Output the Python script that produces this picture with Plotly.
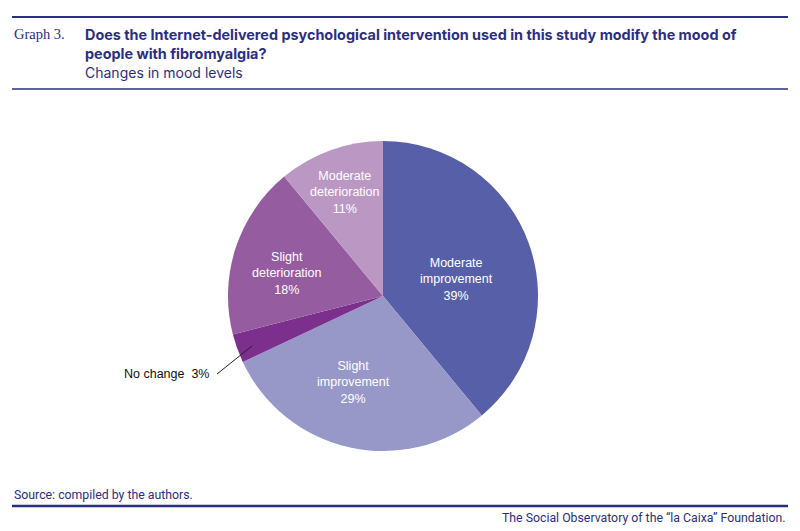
import plotly.graph_objects as go

# Data
labels = ['Moderate improvement', 'Slight improvement', 'No change',
          'Slight deterioration', 'Moderate deterioration']
label_text = ['Moderate<br>improvement', 'Slight<br>improvement', 'No change',
              'Slight<br>deterioration', 'Moderate<br>deterioration']
values = [39, 29, 3, 18, 11]
colors = ['#565fa8', '#9898c8', '#7d2f8d', '#955da0', '#bb98c4']

navy = '#2b2e83'
# page body has an 8px margin, so the figure is drawn 8px in from the corner
OFF = 8
W, H = 800 - OFF, 531 - OFF


def px(x):
    return (x - OFF) / W


def py(y):
    return 1 - (y - OFF) / H


fig = go.Figure(go.Pie(
    labels=labels,
    values=values,
    textinfo='none',
    marker=dict(colors=colors, line=dict(width=0)),
    sort=False,
    direction='clockwise',
    rotation=0,
    hoverinfo='label+percent',
    showlegend=False,
    domain=dict(x=[px(228), px(538)], y=[py(451), py(141)]),
))

# slice labels (white, inside), centre of the middle line in page pixels
label_pos = [(456, 279), (353, 382), None, (287, 273), (345, 192)]
for pos, txt, v in zip(label_pos, label_text, values):
    if pos is None:
        continue
    x, y = pos
    fig.add_annotation(x=px(x), y=py(y), xref='paper', yref='paper', showarrow=False,
                       xanchor='center', yanchor='middle',
                       text=f'{txt}<br>{v}%', align='center',
                       font=dict(color='white', size=12.5, family='Liberation Sans, Arial, sans-serif'))

# "No change" label with leader line
fig.add_annotation(
    x=px(252), y=py(346), xref='paper', yref='paper',
    text=f'{labels[2]}  {values[2]}%', showarrow=True, arrowhead=0, arrowwidth=1, arrowcolor='#222',
    ax=-35, ay=28, xanchor='right', yanchor='middle', borderpad=7,
    font=dict(size=12.5, color='#111', family='Liberation Sans, Arial, sans-serif'),
)

# Header
fig.add_annotation(x=px(12), y=py(34), xref='paper', yref='paper', showarrow=False,
                   xanchor='left', yanchor='middle', text='Graph 3.',
                   font=dict(family='Liberation Serif, DejaVu Serif, serif', size=14.5, color=navy))
fig.add_annotation(x=px(83), y=py(24), xref='paper', yref='paper', showarrow=False,
                   xanchor='left', yanchor='top', align='left',
                   text='<b>Does the Internet-delivered psychological intervention used in this study modify the mood of<br>people with fibromyalgia?</b>',
                   font=dict(family='Inter, Liberation Sans, sans-serif', size=14.4, color=navy))
fig.add_annotation(x=px(83), y=py(72), xref='paper', yref='paper', showarrow=False,
                   xanchor='left', yanchor='middle', text='Changes in mood levels',
                   font=dict(family='Inter, Liberation Sans, sans-serif', size=14, color=navy))

# Footer
fig.add_annotation(x=px(12), y=py(495), xref='paper', yref='paper', showarrow=False,
                   xanchor='left', yanchor='middle', text='Source: compiled by the authors.',
                   font=dict(family='Liberation Sans Narrow, Roboto, sans-serif', size=12.3, color=navy))
fig.add_annotation(x=px(788), y=py(518), xref='paper', yref='paper', showarrow=False,
                   xanchor='right', yanchor='middle', text='The Social Observatory of the \u201cla Caixa\u201d Foundation.',
                   font=dict(family='Liberation Sans Narrow, Roboto, sans-serif', size=12.3, color=navy))

# Rules
for y_px, w in [(17, 2), (89, 1.5), (506, 2.5)]:
    fig.add_shape(type='line', xref='paper', yref='paper', x0=px(12), x1=px(788),
                  y0=py(y_px), y1=py(y_px), line=dict(color=navy, width=w))

fig.update_layout(
    width=W, height=H,
    margin=dict(l=0, r=0, t=0, b=0),
    paper_bgcolor='white',
    plot_bgcolor='white',
)

fig.write_html('out.html')
